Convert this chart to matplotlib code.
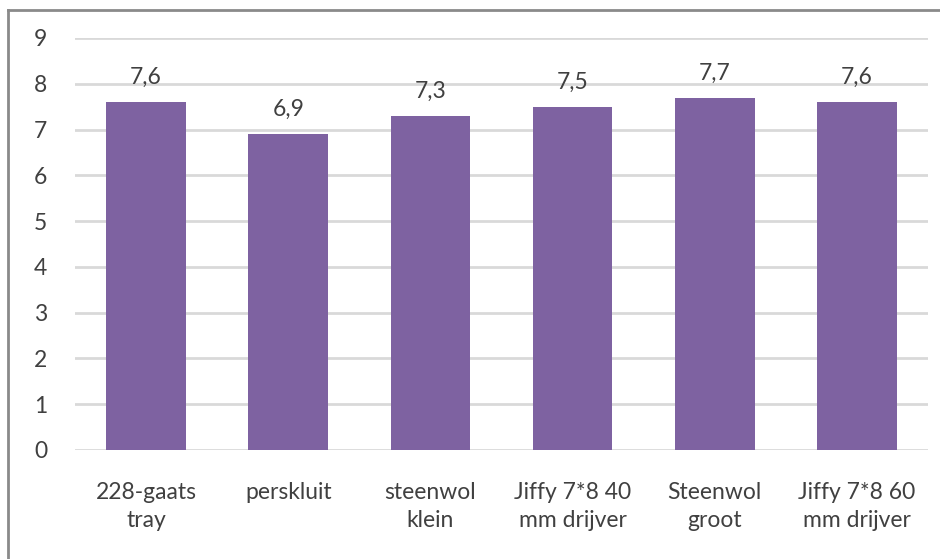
import matplotlib
matplotlib.use("Agg")
import matplotlib.pyplot as plt
from matplotlib.lines import Line2D

categories = ["228-gaats\ntray", "perskluit", "steenwol\nklein",
              "Jiffy 7*8 40\nmm drijver", "Steenwol\ngroot", "Jiffy 7*8 60\nmm drijver"]
scores = [7.6, 6.9, 7.3, 7.5, 7.7, 7.6]
yticks = list(range(0, 10))

BAR = "#7E62A1"
TXT = "#404040"
GRID = "#d9d9d9"

plt.rcParams["font.family"] = ["Lato", "DejaVu Sans"]

fig = plt.figure(figsize=(9.4, 5.59), dpi=100)
ax = fig.add_axes([75 / 940, 1 - 450 / 559, 853 / 940, 412 / 559])

x = range(len(categories))
bars = ax.bar(x, scores, width=0.56, color=BAR, zorder=3)
for b, v in zip(bars, scores):
    ax.annotate(f"{v:.1f}".replace(".", ","), (b.get_x() + b.get_width() / 2, v),
                xytext=(0, 10), textcoords="offset points",
                ha="center", va="bottom", fontsize=16.5, color=TXT)

ax.set_xlim(-0.5, len(categories) - 0.5)
ax.set_ylim(0, 9)
ax.set_yticks(yticks)
ax.set_yticklabels([str(t) for t in yticks], fontsize=16.5, color=TXT)
ax.set_xticks(list(x))
ax.set_xticklabels(categories, fontsize=16.5, color=TXT, linespacing=1.4)
ax.tick_params(axis="both", length=0)
ax.tick_params(axis="y", pad=20)
ax.tick_params(axis="x", pad=23)
ax.grid(axis="y", color=GRID, linewidth=2, zorder=0)
for s in ax.spines.values():
    s.set_visible(False)

# outer frame (left and top edges)
fig.add_artist(Line2D([8 / 940, 8 / 940], [0, 1 - 10 / 559], transform=fig.transFigure,
                      color="#8a8a8a", linewidth=2))
fig.add_artist(Line2D([8 / 940, 1], [1 - 10 / 559, 1 - 10 / 559], transform=fig.transFigure,
                      color="#8a8a8a", linewidth=2))

fig.savefig("out.png", dpi=100)
